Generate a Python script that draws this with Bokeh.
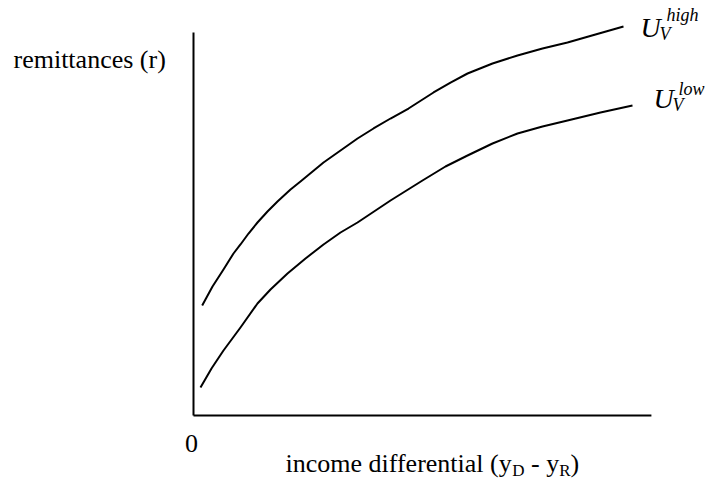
from bokeh.plotting import figure
from bokeh.models import Label
from bokeh.embed import file_html
from bokeh.resources import INLINE

# ---- data (arbitrary units: income differential 0..100, remittances 0..100) ----
income_high = [1.90, 4.16, 6.56, 8.75, 10.28, 12.04, 14.00, 16.19, 18.38, 21.23, 23.41,
               28.45, 32.17, 35.89, 39.39, 43.11, 47.05, 52.52, 56.24, 59.96, 65.43,
               70.90, 76.37, 81.84, 87.96, 94.09]
remit_high = [28.57, 33.51, 37.92, 42.08, 44.42, 47.27, 50.13, 52.99, 55.58, 58.70, 60.78,
              65.71, 68.83, 71.95, 74.55, 77.14, 79.74, 83.90, 86.49, 88.83, 91.43,
              93.51, 95.32, 96.88, 98.96, 101.04]

income_low = [1.53, 3.94, 6.56, 10.28, 14.00, 16.85, 20.57, 24.51, 28.45, 32.17, 35.89,
              43.11, 50.11, 55.14, 59.96, 65.43, 70.90, 76.37, 81.84, 89.06, 96.06]
remit_low = [7.27, 12.21, 16.88, 22.86, 29.09, 32.73, 36.88, 40.78, 44.42, 47.53, 50.13,
             55.84, 61.04, 64.68, 67.53, 70.65, 73.25, 75.06, 76.62, 78.70, 80.52]

axis_x_end = 100.2
axis_y_end = 99.5

y_label = "remittances (r)"
origin_label = "0"
x_label_parts = ["income differential (y", "D", "- y", "R", ")"]
curve_symbol = "U"
curve_sub = "V"
curve_sups = ["high", "low"]

# ---- layout: page pixel -> data helper (for text placement only) ----
SX, SY = 4.57, 3.85
OX, OY = 193, 415  # page position of the origin


def at(px, py):
    return (px - OX) / SX, (OY - py) / SY


W, H = 706, 486
x0, y1 = at(0, 0)
x1, y0 = at(W, H)

p = figure(width=W, height=H, x_range=(x0, x1), y_range=(y0, y1),
           output_backend="svg", toolbar_location=None,
           x_axis_location=None, y_axis_location=None,
           min_border=0, outline_line_color=None)
p.grid.visible = False
p.background_fill_color = "white"
p.border_fill_color = "white"

# axes
p.segment(x0=[0, 0], y0=[0, 0], x1=[axis_x_end, 0], y1=[0, axis_y_end],
          line_color="black", line_width=2)

# curves
p.line(income_high, remit_high, line_color="black", line_width=2, line_join="round")
p.line(income_low, remit_low, line_color="black", line_width=2, line_join="round")


def txt(s, px, baseline_py, size, align="left", style="normal"):
    # anchor slightly above the wanted baseline (bokeh places text lower)
    x, y = at(px, baseline_py - 0.34 * size)
    p.add_layout(Label(x=x, y=y, text=s, text_font="Liberation Serif",
                       text_font_size=f"{size}px", text_font_style=style,
                       text_align=align, text_baseline="alphabetic",
                       text_color="black"))


# axis texts
txt(y_label, 13, 68, 26)
txt(origin_label, 191, 452, 26, align="center")
txt(x_label_parts[0], 285, 472, 26)
txt(x_label_parts[1], 511.7, 476, 17)
txt(x_label_parts[2], 530.5, 472, 26)
txt(x_label_parts[3], 558.7, 476, 17)
txt(x_label_parts[4], 570, 472, 26)

# curve labels
txt(curve_symbol, 640, 37, 28, style="italic")
txt(curve_sub, 659, 40, 18, style="italic")
txt(curve_sups[0], 666, 21, 18, style="italic")
txt(curve_symbol, 653, 108, 28, style="italic")
txt(curve_sub, 672, 111, 18, style="italic")
txt(curve_sups[1], 678, 95, 18, style="italic")

open("out.html", "w").write(file_html(p, INLINE))
